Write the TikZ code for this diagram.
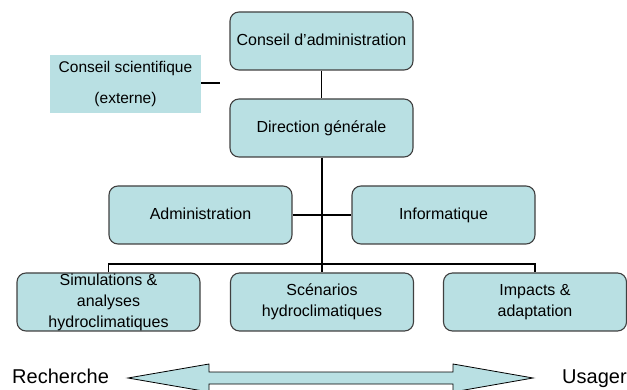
\documentclass[tikz,border=0pt]{standalone}
\usepackage{fontspec}
\setmainfont{Liberation Sans}
\definecolor{boxfill}{RGB}{185,224,227}
\definecolor{boxline}{RGB}{64,64,64}
\begin{document}
\begin{tikzpicture}[x=1pt,y=-1pt,
  orgbox/.style={draw=boxline,line width=1.1pt,fill=boxfill,rounded corners=9pt,
    minimum width=183pt,minimum height=58pt,inner sep=0pt,align=center,
    font=\fontsize{16}{21}\selectfont},
  onel/.style={text height=11.5pt,text depth=3.4pt},
  link/.style={line width=1.6pt,black},
  sidelabel/.style={font=\fontsize{20}{24}\selectfont,inner sep=0pt,anchor=base west}]
\useasboundingbox (0,0) rectangle (627,390);
% boxes
\node[orgbox,onel] (ca) at (321.5,41) {Conseil d'administration};
\node[orgbox,onel] (dg) at (321.5,128) {Direction générale};
\node[fill=boxfill,minimum width=151pt,minimum height=58pt,inner sep=0pt,align=center,
  font=\fontsize{15.5}{31}\selectfont] (cs) at (125.5,84) {Conseil scientifique\\(externe)};
\node[orgbox,onel] (adm) at (200.5,215) {Administration};
\node[orgbox,onel] (inf) at (443.5,215) {Informatique};
\node[orgbox] (sim) at (108.5,302) {Simulations \&\\analyses\\hydroclimatiques};
\node[orgbox] (sce) at (322,302) {Scénarios\\hydroclimatiques};
\node[orgbox] (imp) at (535,302) {Impacts \&\\adaptation};
% connectors
\coordinate (csend) at (220,83);
\coordinate (bl) at (108.5,264);
\coordinate (br) at (535,264);
\draw[link] (cs.east |- csend) -- (csend);
\draw[link] (ca.south) -- (dg.north);
\draw[link] (dg.south -| sce.north) -- (sce.north);
\draw[link] (adm.east) -- (inf.west);
\draw[link] (sim.north) -- (bl) -- (br) -- (imp.north);
% arrow
\begin{scope}
\clip (0,0) rectangle (627,390);
\draw[fill=boxfill,draw=black,line width=0.8pt]
  (128,378) -- (209,364) -- (209,372) -- (453,372) -- (453,364) -- (533,378)
  -- (453,392) -- (453,384) -- (209,384) -- (209,392) -- cycle;
\end{scope}
\node[sidelabel] (rech) at (12,383) {Recherche};
\node[sidelabel] (usa) at (562,383) {Usager};
\end{tikzpicture}
\end{document}
